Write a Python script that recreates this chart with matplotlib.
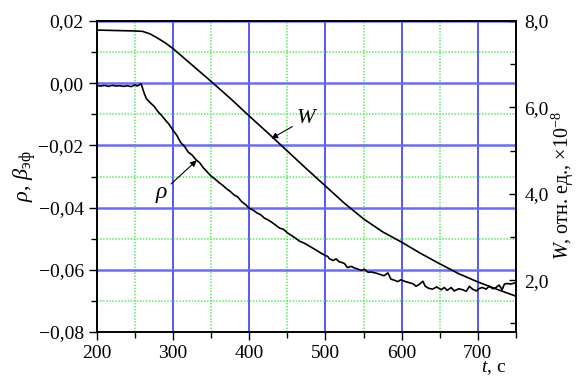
import matplotlib
matplotlib.use('Agg')
import matplotlib.pyplot as plt
from matplotlib.ticker import MultipleLocator, FuncFormatter

plt.rcParams['font.family'] = ['Liberation Serif', 'DejaVu Serif']
plt.rcParams['mathtext.fontset'] = 'custom'
plt.rcParams['mathtext.rm'] = 'Liberation Serif'
plt.rcParams['mathtext.it'] = 'Liberation Serif:italic'

# W, rel. units x1e-8 (right axis)
t_w = [200, 225, 250, 260, 270, 280, 290, 300, 325, 350, 375, 400, 425, 450,
       475, 500, 525, 550, 575, 600, 625, 650, 675, 700, 725, 750]
w = [7.79, 7.78, 7.77, 7.76, 7.70, 7.60, 7.49, 7.36, 6.98, 6.60, 6.21, 5.80,
     5.40, 4.99, 4.58, 4.18, 3.78, 3.42, 3.12, 2.88, 2.62, 2.38, 2.15, 1.96,
     1.79, 1.63]

# rho (left axis)
t_rho = [200, 205, 210, 215, 220, 225, 230, 235, 240, 245, 250, 253, 255, 258,
         262, 265, 270, 275, 280, 285, 290, 295, 300, 305, 310, 315, 320, 325,
         330, 335, 340, 345, 350, 355, 360, 365, 370, 375, 380, 385, 390, 395,
         400, 405, 410, 415, 420, 425, 430, 435, 440, 445, 450, 455, 460, 466,
         472, 479, 488, 494, 499, 503, 505, 510, 514, 518, 521, 525, 529, 534,
         538, 542, 547, 551, 556, 560, 567, 573, 577, 582, 586, 591, 595, 599,
         604, 608, 615, 619, 623, 628, 631, 636, 641, 646, 652, 656, 660, 665,
         669, 675, 680, 685, 689, 693, 698, 702, 706, 711, 715, 720, 724, 728,
         732, 735, 739, 743, 749]
rho = [-0.0008, -0.0009, -0.0007, -0.0010, -0.0007, -0.0009, -0.0008, -0.0010,
       -0.0008, -0.0011, -0.0005, -0.0009, -0.0006, -0.0002,
       -0.0032, -0.0050, -0.0063, -0.0074, -0.0091, -0.0104, -0.0119, -0.0133,
       -0.0152, -0.0168, -0.0191, -0.0203, -0.0222, -0.0231, -0.0246, -0.0256,
       -0.0273, -0.0286, -0.0299, -0.0308, -0.0319, -0.0328, -0.0339, -0.0348,
       -0.0359, -0.0366, -0.0381, -0.0390, -0.0402, -0.0408, -0.0417, -0.0423,
       -0.0434, -0.0440, -0.0448, -0.0457, -0.0466, -0.0470, -0.0481, -0.0489,
       -0.0497, -0.0508, -0.0514,
       -0.0524, -0.0537, -0.0546, -0.0553, -0.0557, -0.0564, -0.0570, -0.0565,
       -0.0574, -0.0576, -0.0580, -0.0593, -0.0589, -0.0594, -0.0597, -0.0602,
       -0.0598, -0.0608, -0.0607, -0.0611, -0.0616, -0.0619, -0.0610, -0.0630,
       -0.0634, -0.0638, -0.0632, -0.0637, -0.0640, -0.0645, -0.0653, -0.0647,
       -0.0637, -0.0653, -0.0660, -0.0662, -0.0655, -0.0664, -0.0657, -0.0666,
       -0.0657, -0.0668, -0.0661, -0.0664, -0.0669, -0.0653, -0.0662, -0.0668,
       -0.0660, -0.0657, -0.0662, -0.0653, -0.0661, -0.0657, -0.0649, -0.0664,
       -0.0646, -0.0644, -0.0646, -0.0642]

fig = plt.figure(figsize=(5.77, 3.78), dpi=100)
ax1 = fig.add_axes([0.168, 0.1217, 0.726, 0.8227])
ax2 = ax1.twinx()

fs = 14

def comma2(v, pos):
    return ('%.2f' % v).replace('.', ',').replace('-', '\u2212')

def comma1(v, pos):
    return ('%.1f' % v).replace('.', ',')

ax1.set_xlim(200, 750)
ax1.set_ylim(-0.08, 0.02)
ax2.set_ylim(0.8, 8.0)

ax1.xaxis.set_major_locator(MultipleLocator(100))
ax1.xaxis.set_minor_locator(MultipleLocator(50))
ax1.yaxis.set_major_locator(MultipleLocator(0.02))
ax1.yaxis.set_minor_locator(MultipleLocator(0.01))
ax1.yaxis.set_major_formatter(FuncFormatter(comma2))
ax2.yaxis.set_major_locator(MultipleLocator(2.0))
ax2.yaxis.set_minor_locator(MultipleLocator(1.0))
ax2.yaxis.set_major_formatter(FuncFormatter(comma1))

ax1.grid(axis='y', which='major', color='#6a6aff', lw=1.8)
ax1.grid(axis='x', which='major', color='#2a2af5', lw=1.1)
ax1.grid(which='minor', color='#55ee55', lw=1.1, linestyle=(0, (1, 1)))
ax1.set_axisbelow(True)

ax1.tick_params(axis='both', which='major', labelsize=fs, direction='out',
                length=6, width=1, top=False)
ax1.tick_params(axis='both', which='minor', direction='out', length=4,
                width=1, top=False)
ax2.tick_params(axis='y', which='major', labelsize=fs, direction='in',
                length=5, width=1, pad=6)
ax2.tick_params(axis='y', which='minor', direction='in', length=4, width=1)

for a in (ax1, ax2):
    for s in a.spines.values():
        s.set_linewidth(1.2)
ax2.patch.set_visible(False)

ax1.plot(t_rho, rho, color='black', lw=1.2)
ax2.plot(t_w, w, color='black', lw=1.2)

ax1.set_ylabel(r'$\rho$, $\beta_{\mathrm{эф}}$', fontsize=16)
ax1.yaxis.set_label_coords(-0.141, 0.5)
ax2.set_ylabel(r'$W$, отн. ед., $\times10^{-8}$', fontsize=14.5)
ax2.yaxis.set_label_coords(1.08, 0.47)
ax1.text(0.978, -0.115, r'$t$, с', transform=ax1.transAxes, ha='right',
         va='center', fontsize=fs)

arrow = dict(arrowstyle='-|>', lw=0.8, color='black', mutation_scale=9,
             shrinkA=1, shrinkB=0)
ax1.annotate('W', xy=(429, -0.0178), xytext=(474, -0.0115), fontsize=fs + 2,
             style='italic', ha='center', va='center', arrowprops=arrow)
ax1.annotate('ρ', xy=(331, -0.0248), xytext=(285, -0.0352), fontsize=fs + 3,
             style='italic', ha='center', va='center', arrowprops=arrow)

fig.savefig('out.png', dpi=100)
